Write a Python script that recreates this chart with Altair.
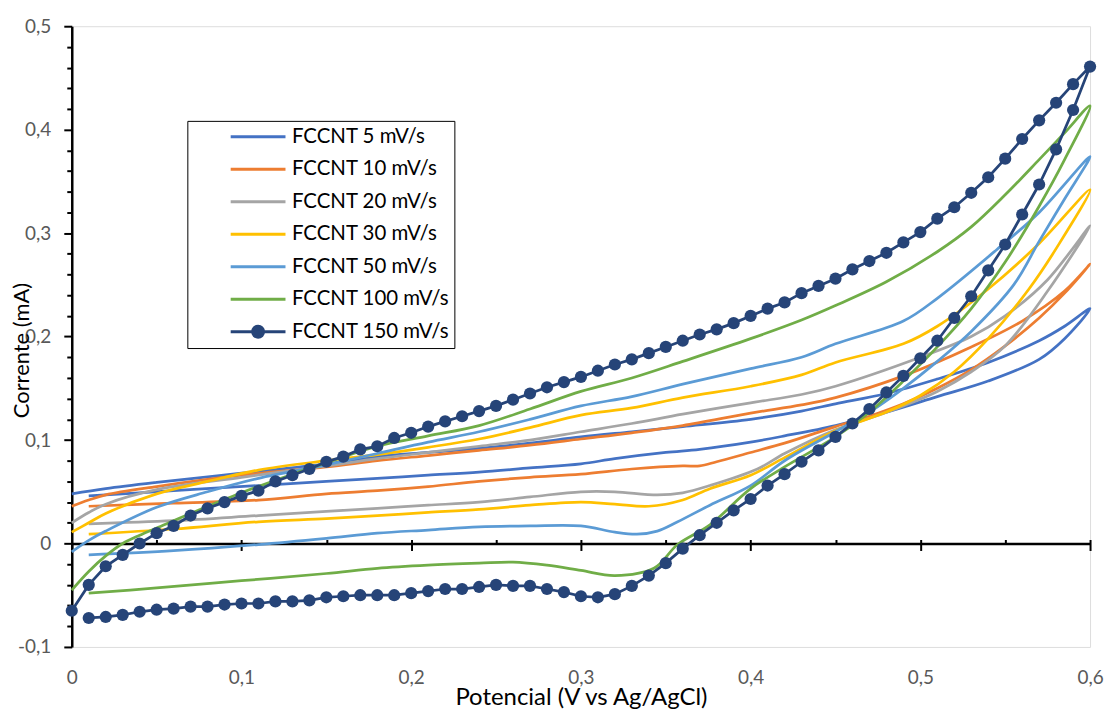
import altair as alt
import pandas as pd

FONT = "Lato"

NAMES = ["FCCNT 5 mV/s", "FCCNT 10 mV/s", "FCCNT 20 mV/s", "FCCNT 30 mV/s",
         "FCCNT 50 mV/s", "FCCNT 100 mV/s", "FCCNT 150 mV/s"]
COLORS = ["#4472C4", "#ED7D31", "#A5A5A5", "#FFC000", "#5B9BD5", "#70AD47", "#264478"]

# ---- FCCNT 5 mV/s ----
s5_fwd_x = [0.00, 0.02, 0.05, 0.10, 0.15, 0.18, 0.21, 0.24, 0.27, 0.30, 0.33, 0.36, 0.40, 0.43, 0.45, 0.48, 0.51, 0.54, 0.57, 0.585, 0.60]
s5_fwd_y = [0.048, 0.053, 0.059, 0.068, 0.077, 0.084, 0.088, 0.092, 0.097, 0.103, 0.108, 0.113, 0.120, 0.128, 0.135, 0.145, 0.159, 0.175, 0.196, 0.210, 0.227]
s5_rev_x = [0.585, 0.57, 0.54, 0.51, 0.48, 0.45, 0.42, 0.40, 0.37, 0.35, 0.32, 0.30, 0.27, 0.24, 0.21, 0.18, 0.15, 0.11, 0.06, 0.01]
s5_rev_y = [0.198, 0.178, 0.157, 0.142, 0.127, 0.114, 0.104, 0.098, 0.091, 0.088, 0.082, 0.077, 0.073, 0.069, 0.066, 0.063, 0.060, 0.056, 0.051, 0.046]

# ---- FCCNT 10 mV/s ----
s10_fwd_x = [0.00, 0.01, 0.02, 0.05, 0.10, 0.15, 0.18, 0.21, 0.24, 0.27, 0.30, 0.33, 0.36, 0.40, 0.43, 0.45, 0.49, 0.53, 0.56, 0.585, 0.60]
s10_fwd_y = [0.036, 0.042, 0.047, 0.055, 0.066, 0.074, 0.080, 0.085, 0.090, 0.095, 0.101, 0.107, 0.114, 0.126, 0.134, 0.141, 0.162, 0.190, 0.215, 0.244, 0.270]
s10_rev_x = [0.585, 0.57, 0.55, 0.53, 0.51, 0.49, 0.47, 0.45, 0.42, 0.40, 0.38, 0.37, 0.36, 0.33, 0.30, 0.27, 0.24, 0.21, 0.18, 0.15, 0.11, 0.06, 0.01]
s10_rev_y = [0.242, 0.218, 0.191, 0.168, 0.150, 0.135, 0.123, 0.113, 0.097, 0.088, 0.079, 0.075, 0.075, 0.072, 0.067, 0.064, 0.060, 0.055, 0.051, 0.048, 0.042, 0.039, 0.036]

# ---- FCCNT 20 mV/s ----
s20_fwd_x = [0.00, 0.01, 0.02, 0.05, 0.10, 0.15, 0.18, 0.21, 0.24, 0.27, 0.30, 0.33, 0.36, 0.40, 0.43, 0.45, 0.50, 0.53, 0.55, 0.575, 0.60]
s20_fwd_y = [0.020, 0.030, 0.038, 0.052, 0.064, 0.075, 0.082, 0.088, 0.094, 0.100, 0.108, 0.116, 0.125, 0.136, 0.144, 0.152, 0.180, 0.200, 0.220, 0.255, 0.307]
s20_rev_x = [0.575, 0.55, 0.53, 0.51, 0.49, 0.47, 0.45, 0.42, 0.404, 0.376, 0.36, 0.345, 0.32, 0.30, 0.27, 0.24, 0.21, 0.18, 0.15, 0.11, 0.06, 0.01]
s20_rev_y = [0.244, 0.191, 0.166, 0.147, 0.133, 0.121, 0.110, 0.087, 0.072, 0.056, 0.049, 0.047, 0.050, 0.050, 0.045, 0.040, 0.037, 0.034, 0.031, 0.027, 0.022, 0.019]

# ---- FCCNT 30 mV/s ----
s30_fwd_x = [0.00, 0.01, 0.02, 0.05, 0.08, 0.11, 0.15, 0.18, 0.21, 0.24, 0.27, 0.30, 0.33, 0.36, 0.40, 0.43, 0.45, 0.49, 0.51, 0.54, 0.57, 0.60]
s30_fwd_y = [0.011, 0.020, 0.029, 0.048, 0.060, 0.071, 0.080, 0.086, 0.093, 0.101, 0.112, 0.124, 0.131, 0.141, 0.152, 0.163, 0.175, 0.193, 0.210, 0.246, 0.290, 0.342]
s30_rev_x = [0.58, 0.564, 0.54, 0.52, 0.50, 0.48, 0.45, 0.42, 0.40, 0.376, 0.36, 0.34, 0.32, 0.30, 0.27, 0.24, 0.21, 0.18, 0.15, 0.11, 0.06, 0.01]
s30_rev_y = [0.285, 0.246, 0.198, 0.166, 0.143, 0.127, 0.109, 0.083, 0.066, 0.053, 0.042, 0.036, 0.038, 0.040, 0.037, 0.033, 0.030, 0.027, 0.024, 0.021, 0.014, 0.009]

# ---- FCCNT 50 mV/s ----
s50_fwd_x = [0.00, 0.01, 0.02, 0.05, 0.08, 0.11, 0.15, 0.18, 0.21, 0.24, 0.27, 0.30, 0.33, 0.36, 0.40, 0.43, 0.45, 0.49, 0.51, 0.545, 0.57, 0.60]
s50_fwd_y = [-0.008, 0.003, 0.012, 0.035, 0.050, 0.063, 0.076, 0.087, 0.098, 0.108, 0.120, 0.133, 0.142, 0.154, 0.169, 0.180, 0.193, 0.215, 0.237, 0.284, 0.320, 0.374]
s50_rev_x = [0.585, 0.57, 0.555, 0.53, 0.51, 0.49, 0.47, 0.45, 0.42, 0.40, 0.376, 0.357, 0.345, 0.333, 0.32, 0.30, 0.27, 0.24, 0.21, 0.18, 0.15, 0.11, 0.06, 0.01]
s50_rev_y = [0.333, 0.292, 0.250, 0.205, 0.176, 0.150, 0.127, 0.108, 0.080, 0.056, 0.037, 0.021, 0.012, 0.009, 0.011, 0.017, 0.017, 0.016, 0.013, 0.010, 0.005, -0.001, -0.007, -0.011]

# ---- FCCNT 100 mV/s ----
s100_fwd_x = [0.00, 0.01, 0.02, 0.03, 0.04, 0.05, 0.07, 0.10, 0.13, 0.15, 0.18, 0.21, 0.24, 0.27, 0.30, 0.33, 0.36, 0.40, 0.43, 0.45, 0.48, 0.51, 0.53, 0.55, 0.57, 0.585, 0.60]
s100_fwd_y = [-0.045, -0.027, -0.012, 0.000, 0.008, 0.015, 0.029, 0.049, 0.067, 0.078, 0.094, 0.104, 0.114, 0.130, 0.147, 0.160, 0.176, 0.198, 0.216, 0.230, 0.253, 0.282, 0.306, 0.337, 0.371, 0.397, 0.423]
s100_rev_x = [0.585, 0.57, 0.55, 0.53, 0.51, 0.49, 0.47, 0.45, 0.42, 0.40, 0.376, 0.357, 0.343, 0.32, 0.30, 0.28, 0.26, 0.24, 0.21, 0.18, 0.15, 0.10, 0.05, 0.01]
s100_rev_y = [0.371, 0.326, 0.272, 0.227, 0.190, 0.157, 0.127, 0.103, 0.074, 0.053, 0.018, -0.001, -0.024, -0.031, -0.026, -0.021, -0.018, -0.019, -0.021, -0.024, -0.029, -0.036, -0.043, -0.048]

# ---- FCCNT 150 mV/s (one marker every 0.01 V) ----
s150_fwd_x = [round(i / 100, 2) for i in range(0, 61)]
s150_fwd_y = [-0.065, -0.040, -0.022, -0.011, 0.000, 0.010, 0.017, 0.027, 0.034, 0.040,
              0.046, 0.051, 0.060, 0.066, 0.072, 0.079, 0.084, 0.091, 0.094, 0.102,
              0.107, 0.113, 0.118, 0.123, 0.128, 0.133, 0.139, 0.145, 0.151, 0.156,
              0.161, 0.167, 0.173, 0.178, 0.184, 0.190, 0.196, 0.202, 0.207, 0.213,
              0.220, 0.227, 0.233, 0.242, 0.249, 0.256, 0.265, 0.273, 0.281, 0.291,
              0.301, 0.314, 0.325, 0.339, 0.354, 0.372, 0.391, 0.409, 0.426, 0.444,
              0.461]
s150_rev_x = [round(i / 100, 2) for i in range(59, 0, -1)]
s150_rev_y = [0.419, 0.381, 0.347, 0.318, 0.289, 0.264, 0.239, 0.218, 0.196, 0.179,
              0.162, 0.146, 0.130, 0.116, 0.103, 0.090, 0.079, 0.067, 0.056, 0.043,
              0.032, 0.020, 0.008, -0.005, -0.019, -0.031, -0.041, -0.049, -0.052, -0.051,
              -0.047, -0.044, -0.041, -0.041, -0.040, -0.042, -0.044, -0.044, -0.046, -0.048,
              -0.050, -0.050, -0.050, -0.051, -0.052, -0.055, -0.056, -0.056, -0.058, -0.058,
              -0.059, -0.061, -0.061, -0.063, -0.064, -0.066, -0.069, -0.071, -0.072]

# ---- axis tick values ----
X_MAJOR = [0, 0.1, 0.2, 0.3, 0.4, 0.5, 0.6]
X_HALF = [0.05, 0.1, 0.15, 0.2, 0.25, 0.3, 0.35, 0.4, 0.45, 0.5, 0.55, 0.6]
Y_MAJOR = [-0.1, 0, 0.1, 0.2, 0.3, 0.4, 0.5]
Y_MINOR = [-0.08, -0.06, -0.04, -0.02, 0.02, 0.04, 0.06, 0.08, 0.12, 0.14, 0.16, 0.18,
           0.22, 0.24, 0.26, 0.28, 0.32, 0.34, 0.36, 0.38, 0.42, 0.44, 0.46, 0.48]

series = [
    (NAMES[0], s5_fwd_x + s5_rev_x, s5_fwd_y + s5_rev_y),
    (NAMES[1], s10_fwd_x + s10_rev_x, s10_fwd_y + s10_rev_y),
    (NAMES[2], s20_fwd_x + s20_rev_x, s20_fwd_y + s20_rev_y),
    (NAMES[3], s30_fwd_x + s30_rev_x, s30_fwd_y + s30_rev_y),
    (NAMES[4], s50_fwd_x + s50_rev_x, s50_fwd_y + s50_rev_y),
    (NAMES[5], s100_fwd_x + s100_rev_x, s100_fwd_y + s100_rev_y),
    (NAMES[6], s150_fwd_x + s150_rev_x, s150_fwd_y + s150_rev_y),
]
rows = []
for name, xs, ys in series:
    assert len(xs) == len(ys), name
    for i, (xv, yv) in enumerate(zip(xs, ys)):
        rows.append({"series": name, "i": i, "x": xv, "y": yv})
df = pd.DataFrame(rows)
df_main = df[df["series"] != NAMES[6]]
df_150 = df[df["series"] == NAMES[6]]

x_scale = alt.Scale(domain=[0, 0.6], nice=False, zero=False)
y_scale = alt.Scale(domain=[-0.1, 0.5], nice=False, zero=False)

LAB = ("datum.value == 0 ? '0' : (datum.value < 0 ? '-' : '') + "
       "replace(format(abs(datum.value), '.1f'), '.', ',')")

IS150 = "datum.value === 'FCCNT 150 mV/s'"
SYM150 = "M-1,0L1,0M-0.2,0A0.2,0.2,0,1,0,0.2,0A0.2,0.2,0,1,0,-0.2,0Z"

legend = alt.Legend(
    title=None, orient="none", legendX=116, legendY=95, direction="vertical",
    strokeColor="#000", fillColor="#ffffff", padding=5,
    symbolType=alt.ExprRef(expr=f"{IS150} ? '{SYM150}' : 'stroke'"),
    symbolFillColor=alt.ExprRef(expr=f"{IS150} ? '#264478' : 'transparent'"),
    symbolSize=3025, symbolStrokeWidth=3, symbolOffset=37, labelOffset=5,
    clipHeight=22, rowPadding=10.6,
    labelFont=FONT, labelFontSize=20.5, labelColor="#000", labelLimit=400,
)

x_axis_main = alt.Axis(
    values=X_MAJOR, labelExpr=LAB, domain=False, ticks=False, grid=False,
    labelPadding=22, labelFlush=False, labelFont=FONT, labelFontSize=19, labelColor="#595959",
    title="Potencial (V vs Ag/AgCl)", titleFont=FONT, titleFontSize=24,
    titleFontWeight="normal", titleColor="#000", titleY=39,
)
y_axis_main = alt.Axis(
    values=Y_MAJOR, labelExpr=LAB, domain=True, domainColor="#000", domainWidth=2.5,
    ticks=True, tickColor="#000", tickWidth=2, tickSize=8, grid=False,
    labelPadding=13, labelFlush=False, labelFont=FONT, labelFontSize=19, labelColor="#595959",
    title="Corrente (mA)", titleFont=FONT, titleFontSize=22, titleFontWeight="normal",
    titleColor="#000", titleX=-50, titleY=325, titleAngle=270,
    titleBaseline="middle", titleAlign="center",
)

lines = alt.Chart(df_main).mark_line(strokeWidth=2.75, interpolate="catmull-rom").encode(
    x=alt.X("x:Q", scale=x_scale, axis=x_axis_main),
    y=alt.Y("y:Q", scale=y_scale, axis=y_axis_main),
    color=alt.Color("series:N", scale=alt.Scale(domain=NAMES, range=COLORS), legend=legend),
    order=alt.Order("i:Q"),
)

line150 = alt.Chart(df_150).mark_line(color="#264478", strokeWidth=2.75).encode(
    x=alt.X("x:Q", scale=x_scale, axis=alt.Axis(
        orient="bottom", offset=-103.83, values=X_MAJOR, labels=False, title="",
        domain=True, domainColor="#000", domainWidth=2.5,
        ticks=True, tickColor="#000", tickWidth=2, tickSize=7, grid=False)),
    y=alt.Y("y:Q", scale=y_scale, axis=alt.Axis(
        orient="left", values=Y_MINOR, labels=False, title="", domain=False,
        ticks=True, tickColor="#000", tickWidth=2, tickSize=5, grid=False)),
    order=alt.Order("i:Q"),
)

pts150 = alt.Chart(df_150).mark_point(filled=True, size=150, color="#264478", opacity=1).encode(
    x=alt.X("x:Q", scale=x_scale, axis=alt.Axis(
        orient="top", offset=-519.17, values=X_HALF, labels=False, title="",
        domain=False, ticks=True, tickColor="#000", tickWidth=2, tickSize=4, grid=False)),
    y=alt.Y("y:Q", scale=y_scale, axis=None),
)

chart = (
    alt.layer(lines, line150, pts150)
    .resolve_axis(x="independent", y="independent")
    .properties(
        width=1022, height=623,
        autosize=alt.AutoSizeParams(type="none"),
        padding={"left": 64, "top": 17, "right": 14, "bottom": 61},
    )
    .configure_view(stroke="#000", strokeWidth=1.5)
    .configure_legend(strokeWidth=2)
    .configure(font=FONT)
)

chart.save("out.html", embed_options={"renderer": "svg", "actions": False})
